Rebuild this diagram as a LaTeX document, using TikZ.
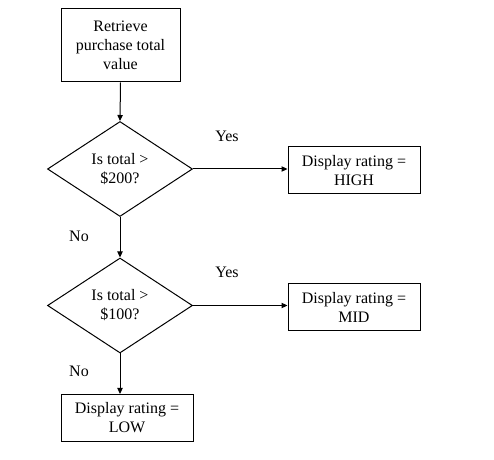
\documentclass[tikz,border=0pt]{standalone}
\usepackage{fontspec}
\setmainfont{Liberation Serif}
\usetikzlibrary{arrows.meta,shapes.geometric}
\tikzset{
  box/.style={draw,line width=0.75pt,inner sep=0pt,align=center,font=\fontsize{12}{14.3}\selectfont},
  decision/.style={draw,diamond,line width=0.75pt,inner sep=0pt,align=center,minimum width=108.75pt,minimum height=71.25pt,font=\fontsize{12}{14.3}\selectfont},
  flowarrow/.style={-{Triangle[length=4.5pt,width=4pt]},line width=0.75pt},
  word/.style={anchor=base,inner sep=0pt,font=\fontsize{12}{14.3}\selectfont}
}
\begin{document}
\begin{tikzpicture}[x=0.75pt,y=-0.75pt]
			\useasboundingbox (0,0) rectangle (494,460);
			%矩形
			\node[box,minimum width=89.25pt,minimum height=54.75pt] (retrieve) at (120.5,45.5) {Retrieve\\purchase total\\value};
			\node[box,minimum width=99pt,minimum height=35.25pt] (high) at (354,170.5) {Display rating =\\HIGH};
			\node[box,minimum width=99pt,minimum height=35.25pt] (mid) at (354,307.5) {Display rating =\\MID};
			\node[box,minimum width=99pt,minimum height=35.25pt] (low) at (127,418) {Display rating =\\LOW};
			%菱形
			\node[decision] (dia1) at (120,169) {Is total >\\\$200?};
			\node[decision] (dia2) at (120,305.5) {Is total >\\\$100?};
			%箭头
			\draw[flowarrow] (retrieve.south) -- (dia1.north);
			\draw[flowarrow] (dia1.east) -- (high.west |- dia1.east);
			\draw[flowarrow] (dia1.south) -- (dia2.north);
			\draw[flowarrow] (dia2.east) -- (mid.west |- dia2.east);
			\draw[flowarrow] (dia2.south) -- (dia2.south |- low.north);
			%文字
			\node[word] (yes1) at (227,142) {Yes};
			\node[word] (yes2) at (227,278) {Yes};
			\node[word] (no1) at (79,242) {No};
			\node[word] (no2) at (79,377) {No};
		\end{tikzpicture}
\end{document}
